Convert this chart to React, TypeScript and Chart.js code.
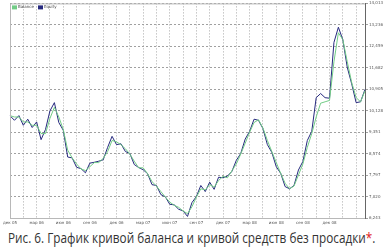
import React, { useEffect, useRef } from 'react';
import { Chart, registerables } from 'chart.js';

Chart.register(...registerables);

const seriesNames = ['Balance', 'Equity'];
const quarterLabels = ['дек 05', 'мар 06', 'июн 06', 'сен 06', 'дек 06', 'мар 07', 'июн 07', 'сен 07', 'дек 07', 'мар 08', 'июн 08', 'сен 08', 'дек 08'];
const yTicks = [6243, 7020, 7797, 8574, 9351, 10128, 10905, 11682, 12459, 13236, 14013];

const equity = [
  9946, 9780, 9950, 9600, 9820, 9520, 9720, 9080, 9450, 10120,
  10420, 9700, 9420, 8450, 8420, 8080, 8030, 7880, 8230, 8260,
  8300, 8350, 8800, 9200, 8900, 8930, 8650, 8580, 8180, 8070,
  7990, 7850, 7450, 7420, 7090, 7010, 6740, 6720, 6560, 6500,
  6300, 6800, 7020, 7420, 7200, 7540, 7280, 7720, 7700, 7760,
  7930, 8330, 8580, 9100, 9380, 9820, 9780, 9480, 8900, 8620,
  8100, 7860, 7380, 7300, 7420, 7980, 8290, 9050, 9380, 10600,
  10750, 10600, 10580, 12600, 13150, 12700, 11700, 11100, 10420, 10450,
  10900,
];

const balance = [
  9950, 9900, 9900, 9720, 9720, 9600, 9600, 9300, 9300, 9850,
  10250, 9900, 9450, 8700, 8420, 8200, 8020, 7960, 8100, 8250,
  8250, 8400, 8650, 9050, 9000, 8900, 8750, 8560, 8300, 8060,
  8060, 7850, 7560, 7400, 7200, 7000, 6820, 6700, 6630, 6500,
  6400, 6650, 7000, 7300, 7260, 7450, 7360, 7600, 7750, 7700,
  7950, 8200, 8560, 8950, 9350, 9700, 9800, 9500, 9050, 8650,
  8250, 7860, 7500, 7300, 7400, 7800, 8200, 8800, 9300, 9900,
  10400, 10450, 10500, 11900, 12950, 12700, 11900, 11150, 10600, 10450,
  10850,
];

const GREEN = '#72cc86';
const NAVY = '#26297e';
const CAPTION_WIDTH = 367;
const PAGE_W = 383;

export default function App() {
  const ref = useRef<HTMLCanvasElement>(null);
  const capRef = useRef<HTMLSpanElement>(null);

  useEffect(() => {
    document.body.style.margin = '0';
    const cap = capRef.current;
    if (cap) {
      const w = cap.offsetWidth;
      if (w > 0) {
        cap.style.left = `${(PAGE_W - w) / 2}px`;
        cap.style.transform = `scaleX(${CAPTION_WIDTH / w})`;
      }
    }
    const labels = equity.map((_, i) => (i % 6 === 0 ? quarterLabels[i / 6] ?? '' : ''));

    const framePlugin = {
      id: 'frame',
      afterDatasetsDraw(chart: any) {
        const { ctx, chartArea: a } = chart;
        ctx.save();
        ctx.strokeStyle = '#b8b8b8';
        ctx.lineWidth = 1;
        ctx.beginPath();
        ctx.moveTo(a.left + 0.5, a.bottom);
        ctx.lineTo(a.left + 0.5, a.top + 0.5);
        ctx.lineTo(a.right, a.top + 0.5);
        ctx.stroke();
        ctx.font = '4px "DejaVu Sans"';
        ctx.textBaseline = 'middle';
        const items = [GREEN, NAVY];
        let x = a.left + 2;
        const y = a.top + 2;
        items.forEach((c, i) => {
          ctx.fillStyle = c;
          ctx.fillRect(x, y, 5, 4);
          ctx.fillStyle = '#444';
          ctx.fillText(seriesNames[i], x + 6, y + 2);
          x += 26;
        });
        ctx.restore();
      },
    };

    const chart = new Chart(ref.current!, {
      type: 'line',
      data: {
        labels,
        datasets: [
          { label: seriesNames[0], data: balance, borderColor: GREEN, borderWidth: 1, pointRadius: 0, tension: 0, fill: false },
          { label: seriesNames[1], data: equity, borderColor: NAVY, borderWidth: 1, pointRadius: 0, tension: 0, fill: false },
        ],
      },
      options: {
        animation: false,
        responsive: false,
        maintainAspectRatio: false,
        layout: { padding: { left: 1, top: 2, right: 0, bottom: 0 } },
        plugins: { legend: { display: false }, tooltip: { enabled: false } },
        scales: {
          x: {
            type: 'category',
            offset: false,
            grid: { color: '#a8a8a8', lineWidth: 1, drawTicks: false },
            border: { display: true, color: '#b8b8b8', dash: [1, 2] },
            ticks: { autoSkip: false, maxRotation: 0, minRotation: 0, color: '#555', font: { size: 4, family: 'DejaVu Sans' }, padding: 3 },
            afterBuildTicks: (s: any) => {
              s.ticks = s.ticks.filter((t: any) => t.value % 3 === 0);
            },
            afterFit: (s: any) => {
              s.height = 10;
            },
          },
          y: {
            position: 'right',
            min: yTicks[0],
            max: yTicks[yTicks.length - 1],
            grid: { color: '#a0a0a0', lineWidth: 1, drawTicks: true, tickLength: 3 },
            border: { display: true, color: '#666', dash: [2, 2] },
            ticks: { color: '#555', font: { size: 4, family: 'DejaVu Sans' }, padding: 1 },
            afterBuildTicks: (s: any) => {
              s.ticks = yTicks.map((v) => ({ value: v }));
            },
            afterFit: (s: any) => {
              s.width = 18;
            },
          },
        },
      },
      plugins: [framePlugin],
    });
    return () => chart.destroy();
  }, []);

  return (
    <div style={{ position: 'absolute', left: 0, top: 0, width: PAGE_W, height: 249, background: '#fff', overflow: 'hidden' }}>
      <canvas ref={ref} width={PAGE_W} height={228} style={{ display: 'block', width: PAGE_W, height: 228 }} />
      <span
        ref={capRef}
        style={{
          position: 'absolute',
          left: 0,
          top: 228,
          display: 'inline-block',
          transformOrigin: 'center',
          fontFamily: '"Open Sans", sans-serif',
          fontSize: 14,
          lineHeight: '20px',
          color: '#333',
          whiteSpace: 'nowrap',
        }}
      >
        Рис. 6. График кривой баланса и кривой средств без просадки<span style={{ color: '#e0201c' }}>*</span>.
      </span>
    </div>
  );
}
